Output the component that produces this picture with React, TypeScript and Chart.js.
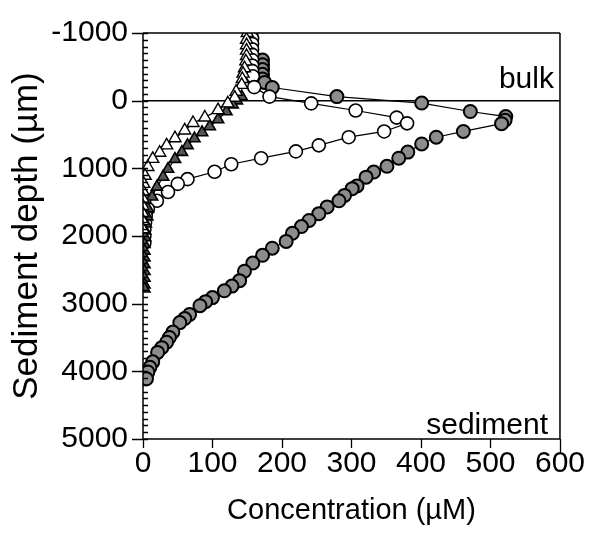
import { useEffect, useRef } from 'react';
import { Chart, registerables } from 'chart.js';
Chart.register(...registerables);

const xTickValues = [0, 100, 200, 300, 400, 500, 600];
const yTickValues = [-1000, 0, 1000, 2000, 3000, 4000, 5000];
const xTitle = 'Concentration (µM)';
const yTitle = 'Sediment depth (µm)';
const bulkLabel = 'bulk';
const sedimentLabel = 'sediment';

// gray filled circles
const grayX = [172, 172, 172, 172, 172, 175, 186, 279, 401, 471, 522, 521, 516, 461, 422, 401, 381, 368, 351, 332, 321, 308, 301, 290, 282, 265, 253, 239, 228, 215, 206, 186, 172, 158, 146, 139, 128, 117, 100, 90, 82, 67, 60, 53, 43, 38, 34, 27, 21, 14, 10, 7, 5];
const grayY = [-600, -530, -460, -390, -320, -270, -195, -60, 35, 160, 235, 290, 340, 455, 540, 640, 760, 850, 970, 1055, 1130, 1260, 1300, 1400, 1480, 1570, 1670, 1770, 1860, 1960, 2080, 2180, 2285, 2400, 2520, 2660, 2740, 2810, 2910, 2970, 3030, 3160, 3220, 3280, 3420, 3500, 3570, 3650, 3720, 3860, 3940, 4010, 4110];

// open circles
const openCircX = [156, 157, 157, 157, 157, 157, 157, 157, 158, 160, 182, 242, 306, 365, 380, 347, 296, 253, 220, 170, 127, 103, 64, 50, 36, 20, 7, 4, 3, 2, 2, 2];
const openCircY = [-1000, -920, -840, -760, -680, -600, -520, -440, -360, -200, -60, 40, 145, 250, 335, 455, 540, 660, 750, 850, 940, 1050, 1160, 1230, 1350, 1480, 1600, 1700, 1800, 1900, 2000, 2100];

// open triangles
const openTriX = [150, 149, 149, 149, 149, 148, 146, 144, 143, 142, 134, 132, 122, 108, 89, 72, 60, 46, 34, 24, 14, 7, 3, 1, 0, 0, 0, 0, 0, 0];
const openTriY = [-1000, -900, -820, -740, -660, -580, -480, -400, -320, -234, -132, -44, 40, 140, 249, 330, 440, 555, 660, 770, 860, 980, 1110, 1230, 1340, 1450, 1560, 1670, 1780, 1900];

// filled triangles
const darkTriX = [142, 135, 129, 120, 108, 96, 85, 74, 64, 56, 46, 36, 29, 20, 13, 7, 6, 4, 3, 3, 2, 2, 2, 2, 2, 2, 2, 2];
const darkTriY = [-60, 0, 59, 161, 278, 381, 470, 560, 660, 761, 864, 1010, 1127, 1274, 1420, 1596, 1713, 1820, 1920, 2020, 2120, 2220, 2320, 2420, 2520, 2620, 2720, 2780];

// reference line at depth 0
const zeroLineX = [0, 600];
const zeroLineY = [0, 0];

const pts = (xs: number[], ys: number[]) => xs.map((x, i) => ({ x, y: ys[i] }));
const FONT = "'Liberation Sans', Arial, sans-serif";

const framePlugin = {
  id: 'frame',
  afterDraw(chart: any) {
    const { ctx, chartArea: a, scales } = chart;
    const xs = scales.x;
    const ys = scales.y;
    ctx.save();
    ctx.strokeStyle = '#000';
    ctx.lineWidth = 1.5;
    ctx.beginPath();
    ctx.moveTo(a.left, a.top);
    ctx.lineTo(a.right, a.top);
    ctx.moveTo(a.right, a.top);
    ctx.lineTo(a.right, a.bottom);
    ctx.moveTo(a.left, a.top);
    ctx.lineTo(a.left, a.bottom);
    ctx.lineTo(a.right, a.bottom);
    ctx.stroke();
    ctx.lineWidth = 1.3;
    ctx.beginPath();
    for (let v = -1000; v <= 5000; v += 100) {
      const py = Math.round(ys.getPixelForValue(v)) + 0.5;
      if (v % 1000 === 0) {
        ctx.moveTo(a.left - 11, py);
        ctx.lineTo(a.left + 5, py);
      } else {
        ctx.moveTo(a.left, py);
        ctx.lineTo(a.left + 5, py);
      }
    }
    xTickValues.forEach((v) => {
      const px = Math.round(xs.getPixelForValue(v)) + 0.5;
      ctx.moveTo(px, a.bottom);
      ctx.lineTo(px, a.bottom + (v === 600 ? 13 : 9));
    });
    ctx.stroke();
    ctx.fillStyle = '#000';
    ctx.font = `30px ${FONT}`;
    ctx.textAlign = 'right';
    ctx.textBaseline = 'alphabetic';
    ctx.fillText(bulkLabel, a.right - 6, ys.getPixelForValue(-180));
    ctx.fillText(sedimentLabel, a.right - 12, ys.getPixelForValue(4920));
    ctx.restore();
  },
};

export default function App() {
  const ref = useRef<HTMLCanvasElement>(null);
  useEffect(() => {
    if (!ref.current) return;
    const circleCommon = { showLine: true, borderColor: '#000', borderWidth: 1.2, pointBorderColor: '#000' };
    const chart = new Chart(ref.current, {
      type: 'scatter',
      data: {
        datasets: [
          { ...circleCommon, data: pts(openTriX, openTriY), pointStyle: 'triangle', pointRadius: 7, pointBackgroundColor: '#fff', pointBorderWidth: 1.4 },
          { ...circleCommon, data: pts(darkTriX, darkTriY), pointStyle: 'triangle', pointRadius: 6.5, pointBackgroundColor: '#555', pointBorderWidth: 1.6 },
          { ...circleCommon, data: pts(openCircX, openCircY), pointStyle: 'circle', pointRadius: 6.5, pointBackgroundColor: '#fff', pointBorderWidth: 1.6 },
          { ...circleCommon, data: pts(grayX, grayY), pointStyle: 'circle', pointRadius: 6.5, pointBackgroundColor: '#8c8c8c', pointBorderWidth: 2 },
          { data: pts(zeroLineX, zeroLineY), showLine: true, borderColor: '#000', borderWidth: 1.5, pointRadius: 0 },
        ] as any,
      },
      options: {
        responsive: false,
        animation: false,
        layout: { padding: { top: 28, right: 30, left: 0, bottom: 0 } },
        plugins: { legend: { display: false }, tooltip: { enabled: false } },
        scales: {
          x: {
            type: 'linear',
            min: 0,
            max: 600,
            afterBuildTicks: (s: any) => { s.ticks = xTickValues.map((v) => ({ value: v })); },
            afterFit: (s: any) => { s.height = 534 - 439; },
            grid: { display: false, drawTicks: false },
            border: { display: false },
            ticks: { color: '#000', font: { size: 30, family: FONT }, padding: 7, maxRotation: 0, autoSkip: false, callback: (v: any) => String(v) },
            title: { display: true, text: xTitle, color: '#000', font: { size: 29, family: FONT }, padding: { top: 0, bottom: 6 } },
          },
          y: {
            type: 'linear',
            reverse: true,
            min: -1000,
            max: 5000,
            afterBuildTicks: (s: any) => { s.ticks = yTickValues.map((v) => ({ value: v })); },
            afterFit: (s: any) => { s.width = 143; },
            grid: { display: false, drawTicks: false },
            border: { display: false },
            ticks: { color: '#000', font: { size: 30, family: FONT }, padding: 15, autoSkip: false, callback: (v: any) => String(v) },
            title: { display: true, text: yTitle, color: '#000', font: { size: 35, family: FONT }, padding: { top: 6, bottom: 0 } },
          },
        },
      },
      plugins: [framePlugin],
    });
    return () => chart.destroy();
  }, []);
  return (
    <div style={{ position: 'fixed', left: 0, top: 0, width: 592, height: 534, background: '#fff' }}>
      <canvas ref={ref} width={592} height={534} />
    </div>
  );
}
